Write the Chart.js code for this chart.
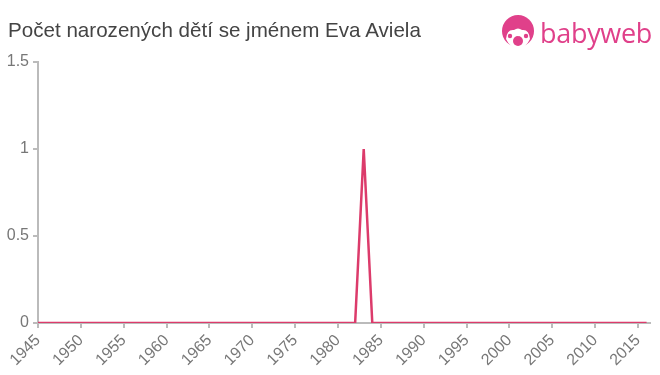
<!DOCTYPE html>
<html>
<head>
<meta charset="utf-8">
<script src="https://cdn.jsdelivr.net/npm/chart.js@4/dist/chart.umd.min.js"></script>
<style>
  body { margin: 0; background: #fff; font-family: "Liberation Sans", Arial, sans-serif; }
  #wrap { position: relative; width: 660px; height: 375px; }
  #title { position: absolute; left: 8px; top: 18px; font-size: 20.6px; color: #444; }
  #logo { position: absolute; left: 501px; top: 14px; height: 36px; display: flex; align-items: center; }
  #logo span { font-family: "Open Sans", "Liberation Sans", sans-serif; font-size: 27px; color: #e0408a; margin-left: 5px; letter-spacing: -0.3px; }
  canvas { position: absolute; left: 0; top: 0; }
</style>
</head>
<body>
<div id="wrap">
  <canvas id="c" width="660" height="375"></canvas>
  <div id="title">Počet narozených dětí se jménem Eva Aviela</div>
  <div id="logo">
    <svg width="34" height="34" viewBox="0 0 34 34">
      <circle cx="17" cy="16" r="16" fill="#e0408a"/>
      <path d="M5 24 Q6 14 13 15 Q17 12 21 15 Q28 14 29 24 Q25 33 17 33 Q9 33 5 24 Z" fill="#fff"/>
      <circle cx="17" cy="26" r="5" fill="#e0408a"/>
      <circle cx="9" cy="21" r="2.2" fill="#e0408a"/>
      <circle cx="25" cy="21" r="2.2" fill="#e0408a"/>
    </svg>
    <span>babyweb</span>
  </div>
</div>
<script>
// roky a počty narozených
const years = [];
for (let y = 1945; y <= 2016; y++) years.push(y);
const counts = years.map(y => (y === 1983 ? 1 : 0));
const xTicks = [1945, 1950, 1955, 1960, 1965, 1970, 1975, 1980, 1985, 1990, 1995, 2000, 2005, 2010, 2015];
const yTicks = [0, 0.5, 1, 1.5];

const axisColor = '#bbbbbb';
const tickColor = '#777777';
const tickFont = { family: '"Liberation Sans", Arial, sans-serif', size: 16 };

new Chart(document.getElementById('c'), {
  type: 'line',
  data: {
    datasets: [{
      data: years.map((y, i) => ({ x: y, y: counts[i] })),
      borderColor: '#dc3b6b',
      borderWidth: 2.5,
      pointRadius: 0,
      tension: 0,
      fill: false
    }]
  },
  options: {
    responsive: false,
    animation: false,
    layout: { padding: { top: 62, right: 10, left: 0, bottom: 0 } },
    plugins: { legend: { display: false }, tooltip: { enabled: false } },
    scales: {
      x: {
        type: 'linear',
        min: 1945,
        max: 2016.4,
        afterBuildTicks: axis => {
          axis.ticks = xTicks.map(v => ({ value: v }));
        },
        afterFit: axis => { axis.height = 52; },
        ticks: {
          autoSkip: false,
          minRotation: 45,
          maxRotation: 45,
          color: tickColor,
          font: tickFont,
          callback: v => String(v)
        },
        grid: { drawOnChartArea: false, drawTicks: true, tickLength: 5, color: axisColor, lineWidth: 2 },
        border: { color: axisColor, width: 2 }
      },
      y: {
        min: 0,
        max: 1.5,
        afterBuildTicks: axis => {
          axis.ticks = yTicks.map(v => ({ value: v }));
        },
        afterFit: axis => { axis.width = 38; },
        ticks: {
          color: tickColor,
          padding: 4,
          font: tickFont,
          callback: v => String(v)
        },
        grid: { drawOnChartArea: false, drawTicks: true, tickLength: 5, color: axisColor, lineWidth: 2 },
        border: { color: axisColor, width: 2 }
      }
    }
  }
});
</script>
</body>
</html>
